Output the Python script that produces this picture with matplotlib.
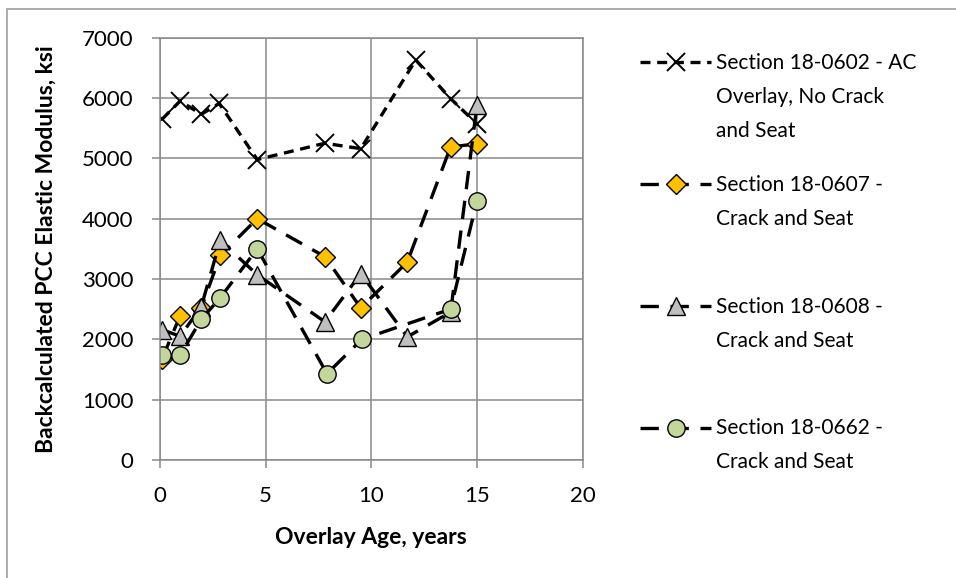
import numpy as np
import matplotlib
matplotlib.use("Agg")
import matplotlib.pyplot as plt
from matplotlib.patches import Rectangle
from matplotlib.legend_handler import HandlerLine2D
from matplotlib.transforms import Affine2D

plt.rcParams['font.family'] = ['Lato', 'DejaVu Sans']

# data
age_0602 = [0.1, 0.95, 1.95, 2.8, 4.6, 7.8, 9.5, 12.1, 13.75, 15.0]
mod_0602 = [5650, 5950, 5730, 5910, 4980, 5250, 5160, 6630, 5990, 5570]

age_0607 = [0.1, 0.95, 1.95, 2.85, 4.6, 7.8, 9.5, 11.7, 13.75, 15.0]
mod_0607 = [1680, 2390, 2520, 3390, 4000, 3370, 2520, 3280, 5190, 5240]

age_0608 = [0.1, 0.95, 1.95, 2.85, 4.6, 7.8, 9.5, 11.7, 13.75, 15.0]
mod_0608 = [2160, 2050, 2540, 3640, 3070, 2290, 3090, 2040, 2450, 5890]

age_0662 = [0.1, 0.95, 1.95, 2.85, 4.6, 7.9, 9.55, 13.75, 15.0]
mod_0662 = [1740, 1740, 2330, 2690, 3500, 1430, 2000, 2500, 4300]

labels = [
    "Section 18-0602 - AC\nOverlay, No Crack\nand Seat",
    "Section 18-0607 -\nCrack and Seat\n",
    "Section 18-0608 -\nCrack and Seat\n",
    "Section 18-0662 -\nCrack and Seat\n",
]
x_ticks = [0, 5, 10, 15, 20]
y_ticks = [0, 1000, 2000, 3000, 4000, 5000, 6000, 7000]


class TopLineHandler(HandlerLine2D):
    # put the legend key level with the first line of the label
    def __init__(self, dy, **kw):
        super().__init__(**kw)
        self.dy = dy

    def create_artists(self, legend, orig_handle, xdescent, ydescent,
                       width, height, fontsize, trans):
        arts = super().create_artists(legend, orig_handle, xdescent, ydescent,
                                      width, height, fontsize, trans)
        for a in arts:
            a.set_transform(Affine2D().translate(0, self.dy) + trans)
        return arts


fig = plt.figure(figsize=(9.56, 5.78), dpi=100)
ax = fig.add_axes([0.1674, 0.2042, 0.6095 - 0.1674, 0.9348 - 0.2042])

lw = 2.4
l1, = ax.plot(age_0602, mod_0602, color='black', lw=lw, dashes=(3, 2),
              marker='x', ms=13.5, mew=1.4, mec='black')
l2, = ax.plot(age_0607, mod_0607, color='black', lw=lw, dashes=(5.5, 3.5),
              marker='D', ms=10, mfc='#FFC000', mec='black', mew=1.0)
l3, = ax.plot(age_0608, mod_0608, color='black', lw=lw, dashes=(5.5, 3.5),
              marker='^', ms=12.5, mfc='#BFBFBF', mec='black', mew=1.0)
l4, = ax.plot(age_0662, mod_0662, color='black', lw=lw, dashes=(5.5, 3.5),
              marker='o', ms=12.5, mfc='#C3D69B', mec='black', mew=1.0)

grid_c = '#898989'
ax.set_xlim(0, 20)
ax.set_ylim(0, 7000)
ax.set_xticks(x_ticks)
ax.set_yticks(y_ticks)
ax.grid(True, color=grid_c, lw=1.1)
ax.set_axisbelow(True)
for s in ax.spines.values():
    s.set_color(grid_c)
    s.set_linewidth(1.1)
ax.tick_params(direction='out', length=6, width=1.1, color=grid_c,
               labelsize=16, pad=13)

ax.set_xlabel("Overlay Age, years", fontsize=16.5, fontweight='bold', labelpad=15)
ax.set_ylabel("Backcalculated PCC Elastic Modulus, ksi", fontsize=16.5,
              fontweight='bold', labelpad=18)

dy = 25.5
hmap = {h: TopLineHandler(dy) for h in (l1, l2, l3, l4)}
leg = fig.legend([l1, l2, l3, l4], labels, loc='center left',
                 bbox_to_anchor=(0.669, 0.516), frameon=False,
                 fontsize=15, handlelength=3.45, handletextpad=0.22,
                 borderpad=0, borderaxespad=0, labelspacing=1.61,
                 handler_map=hmap)
for t in leg.get_texts():
    t.set_linespacing(1.88)

fig.patches.append(Rectangle((7 / 956, -0.05), 1.1, 1 - 9 / 578 + 0.05,
                             transform=fig.transFigure, fill=False,
                             edgecolor='#a6a6a6', lw=1.3))

fig.savefig("out.png", dpi=100)
